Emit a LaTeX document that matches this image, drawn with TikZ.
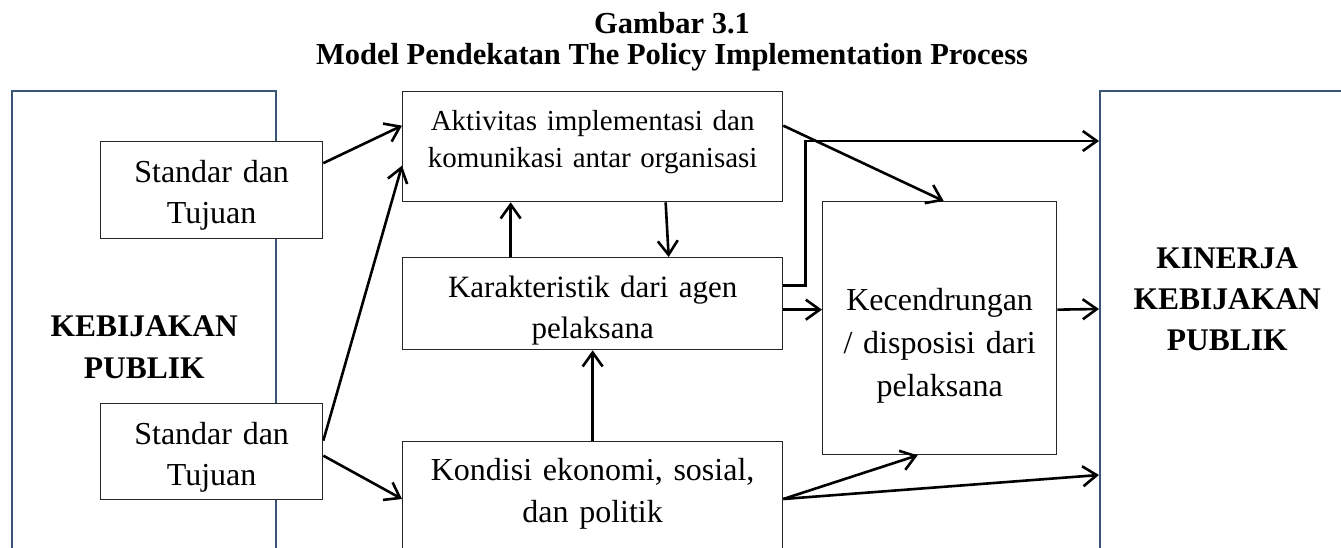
\documentclass[tikz,border=0pt]{standalone}
\usepackage{fontspec}
\setmainfont{Liberation Serif}
\usetikzlibrary{arrows.meta}
\definecolor{tepi}{RGB}{58,84,120}

\begin{document}
\begin{tikzpicture}[x=1pt,y=-1pt,
	kotak/.style={draw=black!85,line width=1.3pt,fill=white,inner sep=0pt,align=center,anchor=north west},
	besar/.style={kotak,draw=tepi,line width=2.4pt,font=\fontsize{31.5}{41}\selectfont\bfseries},
	judul/.style={anchor=base,inner sep=0pt,font=\fontsize{30.5}{31}\selectfont\bfseries},
	panah/.style={line width=2.6pt,-{Straight Barb[length=14pt,width=20pt]}}]
\useasboundingbox (0,0) rectangle (1341,548);
\fill[white] (0,0) rectangle (1341,548);
\clip (0,0) rectangle (1341,548);
\node[judul] (j1) at (672,34) {Gambar 3.1};
\node[judul] (j2) at (672,65) {Model Pendekatan The Policy Implementation Process};
\node[besar,text width=264pt,text height=245pt,text depth=265pt,
	font=\fontsize{31.5}{42}\selectfont\bfseries] (pol) at (11,90) {KEBIJAKAN\\PUBLIK};
\node[besar,text width=254pt,text height=177pt,text depth=333pt] (kin) at (1099,90)
	{KINERJA\\KEBIJAKAN\\PUBLIK};
\node[kotak,text width=222pt,text height=41pt,text depth=56pt,
	font=\fontsize{32}{41}\selectfont] (s1) at (100,141) {Standar dan\\Tujuan};
\node[kotak,text width=222pt,text height=41pt,text depth=55pt,
	font=\fontsize{32}{41}\selectfont] (s2) at (100,403) {Standar dan\\Tujuan};
\node[kotak,text width=380pt,text height=39pt,text depth=71pt,
	font=\fontsize{29}{37}\selectfont] (akt) at (402,91)
	{Aktivitas implementasi dan\\komunikasi antar organisasi};
\node[kotak,text width=380pt,text height=40pt,text depth=52pt,
	font=\fontsize{31}{41}\selectfont] (kar) at (402,257) {Karakteristik dari agen\\pelaksana};
\node[kotak,text width=380pt,text height=39pt,text depth=120pt,
	font=\fontsize{32}{42}\selectfont] (kon) at (402,441) {Kondisi ekonomi, sosial,\\dan politik};
\node[kotak,text width=234pt,text height=109pt,text depth=144pt,
	font=\fontsize{32}{43}\selectfont] (kec) at (822,201)
	{Kecendrungan\\/ disposisi dari\\pelaksana};
% panah
\draw[panah] ([yshift=27pt]s1.east) -- ([yshift=21pt]akt.west);
\draw[panah] ([yshift=11pt]s2.east) -- ([yshift=-19pt]akt.west);
\draw[panah] ([yshift=-4pt]s2.east) -- ([yshift=-58pt]kon.north west);
\draw[panah] ([xshift=-82pt]kar.north) -- ([xshift=-82pt]akt.south);
\draw[panah] ([xshift=73pt]akt.south) -- ([xshift=76pt]kar.north);
\draw[panah] (kon.north) -- (kar.south);
\draw[panah] ([yshift=21pt]akt.east) -- ([xshift=4pt]kec.north);
\draw[panah] ([yshift=18pt]kar.east) -- ++(22,0) |- ([yshift=-51pt]kin.north west);
\draw[panah] ([yshift=-6pt]kar.east) -- ([yshift=18.5pt]kec.west);
\draw[panah] ([yshift=18.5pt]kec.east) -- ([yshift=-219pt]kin.north west);
\draw[panah] ([yshift=-58pt]kon.north east) -- ([xshift=-22pt]kec.south);
\draw[panah] ([yshift=-58pt]kon.north east) -- ([yshift=-385pt]kin.north west);
\end{tikzpicture}
\end{document}
